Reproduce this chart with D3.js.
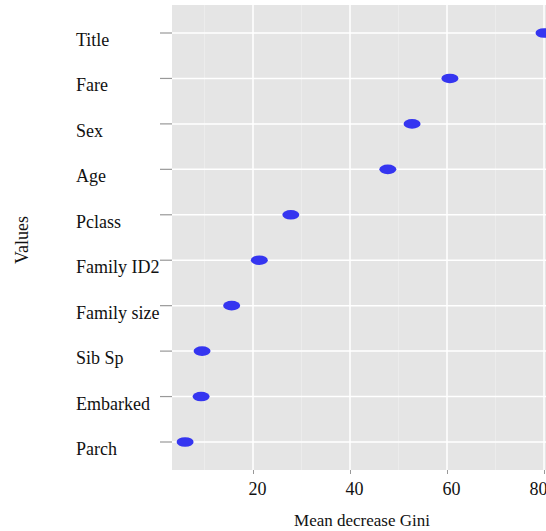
<!DOCTYPE html>
<html>
<head>
<meta charset="utf-8">
<script src="https://cdn.jsdelivr.net/npm/d3@7"></script>
<style>
  body { margin: 0; background: #fff; }
  text { font-family: "Liberation Serif", "Times New Roman", serif; fill: #111; }
</style>
</head>
<body>
<div id="content"></div>
<script>
// Set up canvas
var width = 546, height = 531;

// data
var categories = ["Title", "Fare", "Sex", "Age", "Pclass", "Family ID2",
                  "Family size", "Sib Sp", "Embarked", "Parch"];
var values = [80.0, 60.6, 52.8, 47.8, 27.8, 21.3, 15.6, 9.5, 9.3, 6.0];
var xTicks = [20, 40, 60, 80];
var xMinor = [10, 30, 50, 70];

var panel = {left: 172, top: 5, right: 548, bottom: 470};

var svg = d3.select("#content")
    .append("svg")
    .attr("width", width)
    .attr("height", height);

var xscale = d3.scaleLinear()
    .domain([0, 80])
    .range([156, 544]);

var yscale = d3.scalePoint()
    .domain(categories)
    .range([33, 442]);

// grey panel
svg.append("rect")
    .attr("x", panel.left)
    .attr("y", panel.top)
    .attr("width", panel.right - panel.left)
    .attr("height", panel.bottom - panel.top)
    .style("fill", "#e5e5e5");

// minor grid
svg.selectAll(".minor")
    .data(xMinor)
    .enter().append("line")
    .attr("class", "minor")
    .attr("x1", d => xscale(d)).attr("x2", d => xscale(d))
    .attr("y1", panel.top).attr("y2", panel.bottom)
    .style("stroke", "#ececec")
    .style("stroke-width", 1);

// major grid
svg.selectAll(".vgrid")
    .data(xTicks)
    .enter().append("line")
    .attr("class", "vgrid")
    .attr("x1", d => xscale(d)).attr("x2", d => xscale(d))
    .attr("y1", panel.top).attr("y2", panel.bottom)
    .style("stroke", "#fff")
    .style("stroke-width", 1.5);

svg.selectAll(".hgrid")
    .data(categories)
    .enter().append("line")
    .attr("class", "hgrid")
    .attr("x1", panel.left).attr("x2", panel.right)
    .attr("y1", d => yscale(d)).attr("y2", d => yscale(d))
    .style("stroke", "#fff")
    .style("stroke-width", 1.5);

// x axis
var x_axis = d3.axisBottom(xscale)
    .tickValues(xTicks)
    .tickSize(4)
    .tickPadding(4);

var gx = svg.append("g")
    .attr("transform", "translate(0," + panel.bottom + ")")
    .call(x_axis);
gx.select(".domain").remove();
gx.selectAll("line").style("stroke", "#999");
gx.selectAll("text")
    .style("font-size", "18px")
    .attr("dy", "0.95em")
    // keep the last label inside the picture, like the original
    .attr("x", d => Math.min(0, width - 12 - xscale(d)) + 4);

// y axis ticks + labels (labels sit left aligned, a bit below the tick)
svg.selectAll(".ytick")
    .data(categories)
    .enter().append("line")
    .attr("class", "ytick")
    .attr("x1", 160).attr("x2", panel.left)
    .attr("y1", d => yscale(d)).attr("y2", d => yscale(d))
    .style("stroke", "#999")
    .style("stroke-width", 1.2);

svg.selectAll(".ylab")
    .data(categories)
    .enter().append("text")
    .attr("class", "ylab")
    .attr("x", 76)
    .attr("y", d => yscale(d) + 13)
    .style("font-size", "18px")
    .text(d => d);

// points
svg.selectAll(".pt")
    .data(values)
    .enter().append("ellipse")
    .attr("class", "pt")
    .attr("cx", d => xscale(d))
    .attr("cy", (d, i) => yscale(categories[i]))
    .attr("rx", 8.5)
    .attr("ry", 4.8)
    .style("fill", "#3535f0");

// axis titles
svg.append("text")
    .attr("x", 362)
    .attr("y", 526)
    .attr("text-anchor", "middle")
    .style("font-size", "17px")
    .text("Mean decrease Gini");

svg.append("text")
    .attr("transform", "translate(28,240) rotate(-90)")
    .attr("text-anchor", "middle")
    .style("font-size", "18px")
    .text("Values");
</script>
</body>
</html>
